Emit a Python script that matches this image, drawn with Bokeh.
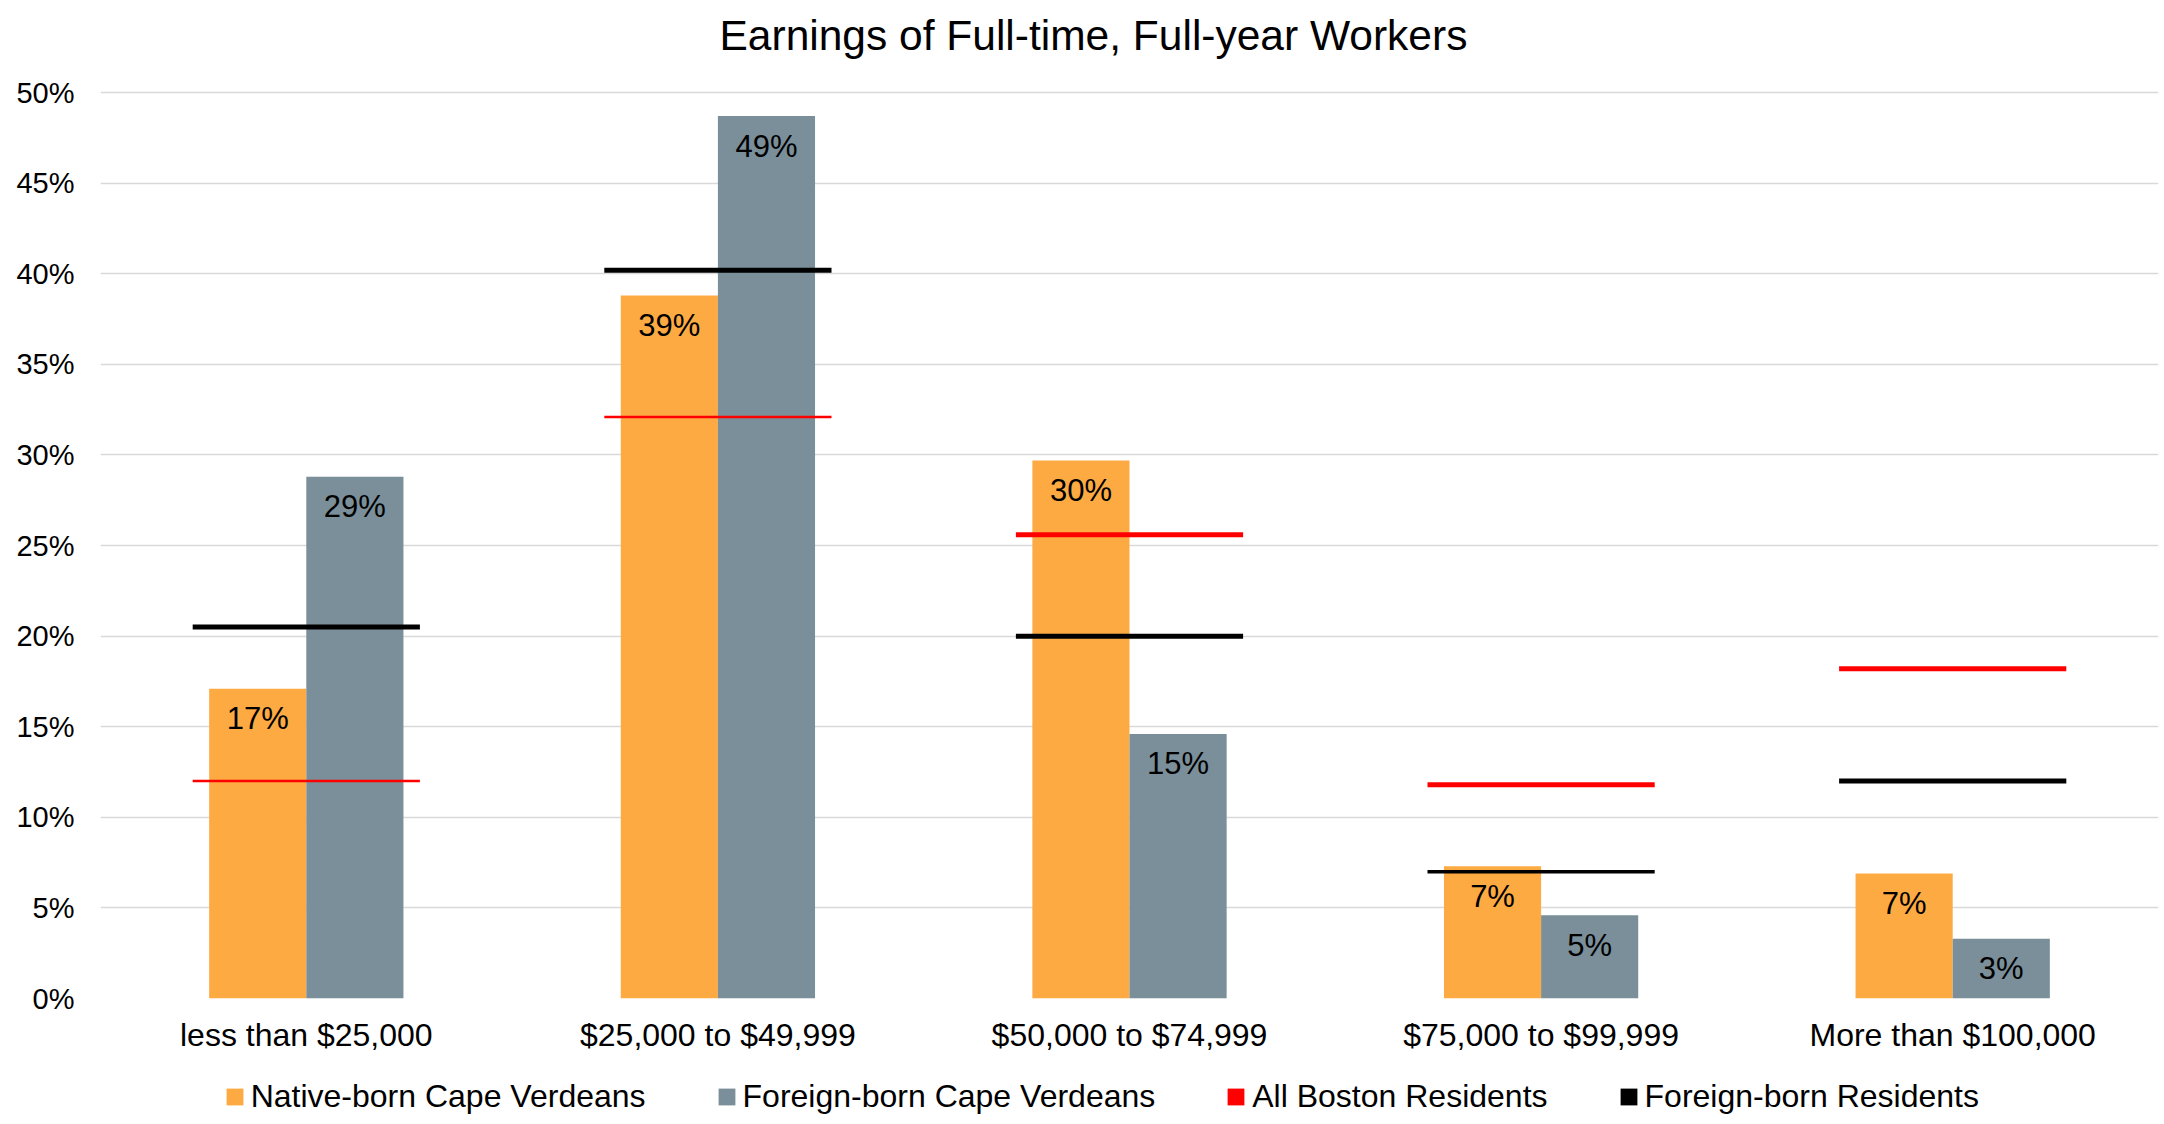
from bokeh.plotting import figure
from bokeh.layouts import column
from bokeh.models import (ColumnDataSource, FactorRange, Legend, LegendItem,
                          FixedTicker)
from bokeh.transform import dodge
from bokeh.embed import file_html
from bokeh.resources import INLINE
from bokeh.core.properties import value

# ---------------- data ----------------
categories = ["less than $25,000", "$25,000 to $49,999", "$50,000 to $74,999",
              "$75,000 to $99,999", "More than $100,000"]
native_cv = [17.1, 38.8, 29.7, 7.3, 6.9]      # Native-born Cape Verdeans
foreign_cv = [28.8, 48.7, 14.6, 4.6, 3.3]     # Foreign-born Cape Verdeans
all_boston = [12.0, 32.1, 25.6, 11.8, 18.2]   # All Boston Residents
foreign_res = [20.5, 40.2, 20.0, 7.0, 12.0]   # Foreign-born Residents
y_ticks = [0, 5, 10, 15, 20, 25, 30, 35, 40, 45, 50]
series_names = ["Native-born Cape Verdeans", "Foreign-born Cape Verdeans",
                "All Boston Residents", "Foreign-born Residents"]

# ---------------- styles ----------------
ORANGE = "#FDAA42"
GRAY = "#7A8F99"
RED = "#FF0000"
BLACK = "#000000"
FONT = "Liberation Sans"
red_widths = [2.5, 2.5, 5, 5, 5]
black_widths = [5, 5, 5, 3.5, 5]

src = ColumnDataSource(dict(
    cat=categories,
    native=native_cv,
    foreign=foreign_cv,
    boston=all_boston,
    fres=foreign_res,
    native_lbl=[f"{round(v)}%" for v in native_cv],
    foreign_lbl=[f"{round(v)}%" for v in foreign_cv],
    red_w=red_widths,
    black_w=black_widths,
))

half_bar = 0.118
bar_w = 0.236
line_w = 0.552

# plot area: 50% gridline sits a little below the frame top to leave room
# for the title
p = figure(x_range=FactorRange(*categories), y_range=(0, 51.77),
           frame_width=2058, frame_height=938,
           output_backend="svg", toolbar_location=None,
           min_border_left=100, min_border_right=2, min_border_top=60,
           min_border_bottom=60)

p.title.text = "Earnings of Full-time, Full-year Workers"
p.title.text_font = FONT
p.title.text_font_size = "42.5px"
p.title.text_font_style = "normal"
p.title.text_color = "#000000"
p.title.align = "left"
p.title.offset = 619
p.title.standoff = 4

p.outline_line_color = None
p.xgrid.grid_line_color = None
p.ygrid.grid_line_color = "#D9D9D9"
p.ygrid.grid_line_width = 1.5

p.yaxis.ticker = FixedTicker(ticks=y_ticks)
p.yaxis.major_label_overrides = {t: f"{t}%" for t in y_ticks}
for ax in (p.xaxis, p.yaxis):
    ax.axis_line_color = None
    ax.major_tick_line_color = None
    ax.minor_tick_line_color = None
    ax.major_label_text_font = FONT
    ax.major_label_text_color = "#000000"
p.yaxis.major_label_text_font_size = "29px"
p.yaxis.major_label_standoff = 20
p.xaxis.major_label_text_font_size = "32px"
p.xaxis.major_label_standoff = 12


def draw_series(fig, visible=True):
    rn = fig.vbar(x=dodge("cat", -half_bar, range=fig.x_range), top="native",
                  width=bar_w, source=src, fill_color=ORANGE, line_color=None,
                  visible=visible)
    rf = fig.vbar(x=dodge("cat", half_bar, range=fig.x_range), top="foreign",
                  width=bar_w, source=src, fill_color=GRAY, line_color=None,
                  visible=visible)
    rb = fig.rect(x="cat", y="boston", width=line_w, height="red_w",
                  height_units="screen", source=src, fill_color=RED,
                  line_color=None, visible=visible)
    rr = fig.rect(x="cat", y="fres", width=line_w, height="black_w",
                  height_units="screen", source=src, fill_color=BLACK,
                  line_color=None, visible=visible)
    return [rn, rf, rb, rr]


renderers = draw_series(p)

p.text(x=dodge("cat", -half_bar, range=p.x_range), y="native", text="native_lbl",
       source=src, text_align="center", text_baseline="middle", y_offset=30,
       text_font=value(FONT), text_font_size="31px", text_color="#000000")
p.text(x=dodge("cat", half_bar, range=p.x_range), y="foreign", text="foreign_lbl",
       source=src, text_align="center", text_baseline="middle", y_offset=30,
       text_font=value(FONT), text_font_size="31px", text_color="#000000")

# ---------------- legend strip below the chart ----------------
lf = figure(x_range=FactorRange(*categories), y_range=(0, 1),
            frame_width=2158, frame_height=46,
            output_backend="svg", toolbar_location=None,
            x_axis_location=None, y_axis_location=None,
            min_border_left=0, min_border_right=2, min_border_top=16,
            min_border_bottom=0)
lf.grid.visible = False
lf.outline_line_color = None
legend_renderers = draw_series(lf, visible=False)

legend = Legend(items=[LegendItem(label=name, renderers=[r])
                       for name, r in zip(series_names, legend_renderers)],
                orientation="horizontal", location=(223, 5))
legend.click_policy = "none"
legend.inactive_fill_alpha = 0
legend.margin = 0
legend.padding = 0
legend.spacing = 70
legend.glyph_width = 21
legend.glyph_height = 21
legend.label_standoff = 6
legend.label_text_font = FONT
legend.label_text_font_size = "32px"
legend.label_text_color = "#000000"
legend.border_line_color = None
legend.background_fill_alpha = 0
lf.add_layout(legend, "center")

layout = column(p, lf, spacing=0)
open("out.html", "w").write(file_html(layout, INLINE))
